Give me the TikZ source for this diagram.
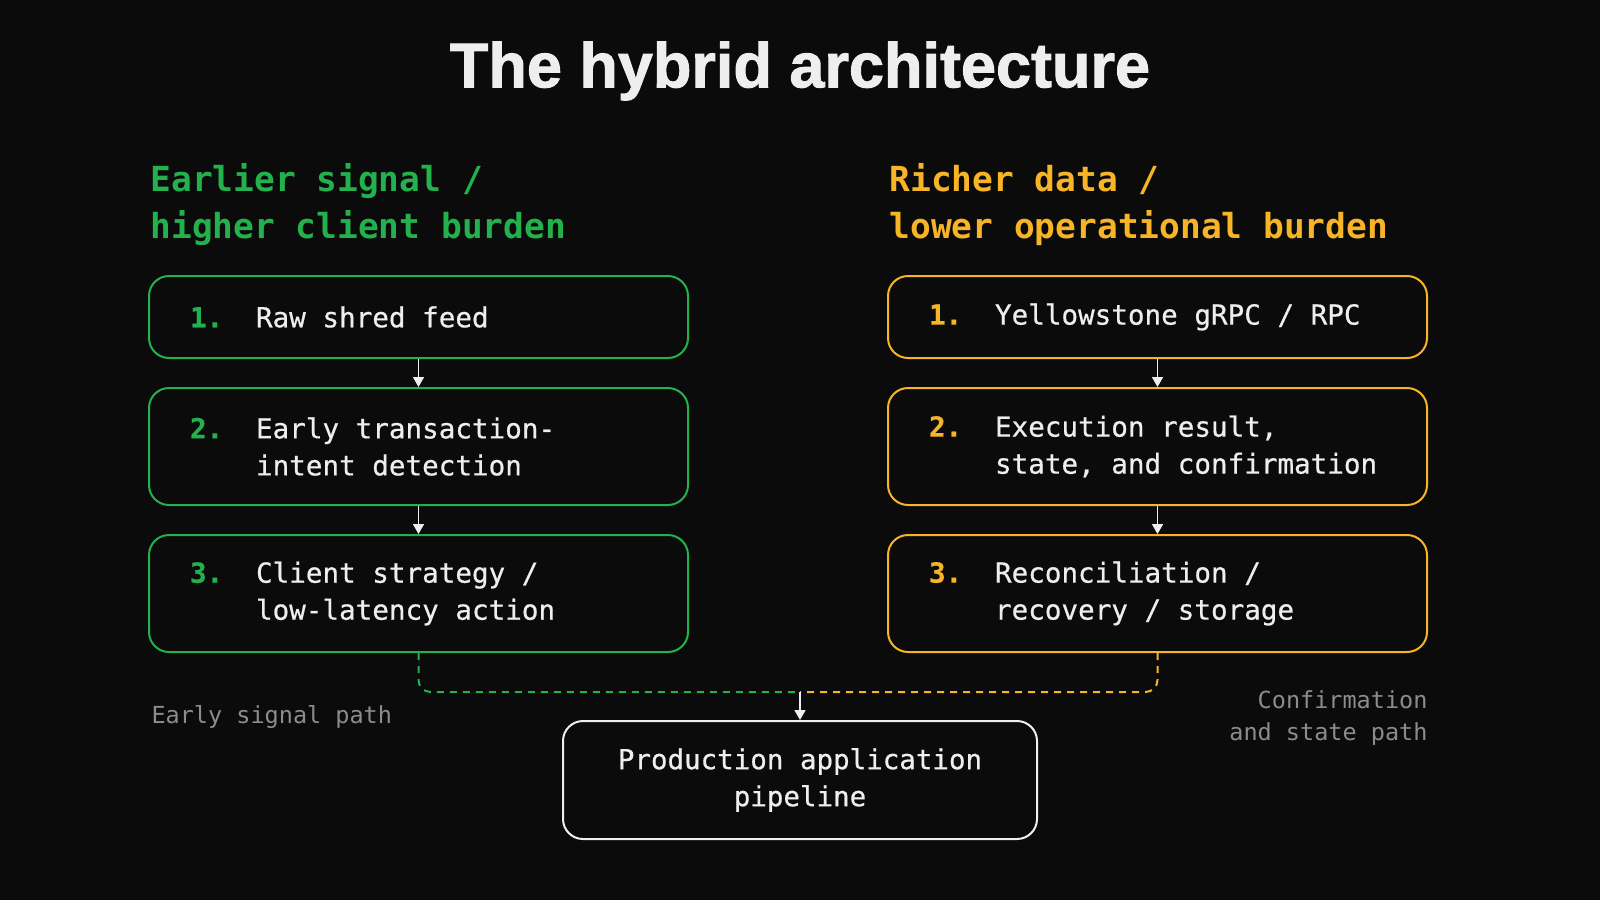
\documentclass[tikz,border=0pt]{standalone}
\usepackage{fontspec}
\usepackage{xcolor}
\usepackage{tikz}
\setmainfont{DejaVu Sans Mono}
\newfontfamily\medmono[FakeBold=0.6]{DejaVu Sans Mono}
\newfontfamily\titlefont[FakeBold=1.6]{Liberation Sans}
\usetikzlibrary{positioning,calc,arrows.meta}

\definecolor{bgdark}{HTML}{0B0B0B}
\definecolor{sigGreen}{HTML}{22B14C}
\definecolor{dataAmber}{HTML}{F6B426}
\definecolor{txtWhite}{HTML}{EEEEEE}
\definecolor{pathGray}{HTML}{8C8C8C}

% step number, then indent for the next line
\newcommand{\stepnum}[2]{\makebox[66pt][l]{\bfseries\color{#1}#2}}
\newcommand{\stepindent}{\hspace*{66pt}}

\begin{document}
\begin{tikzpicture}[x=1pt, y=-1pt,
    stagebox/.style={draw=#1, line width=2pt, rounded corners=20pt, minimum width=539pt,
        inner xsep=41pt, inner ysep=0pt, text width=457pt, align=flush left, text=txtWhite,
        font=\medmono\fontsize{27.6}{37}\selectfont},
    heading/.style={anchor=west, align=left, font=\fontsize{34.5}{47}\selectfont\bfseries},
    note/.style={text=pathGray, font=\fontsize{23.5}{32}\selectfont},
    flow/.style={txtWhite, line width=1.6pt, -{Triangle[width=11pt,length=10pt]}},
    pathline/.style={line width=2pt, dash pattern=on 7pt off 6pt, rounded corners=12pt}]

    % Background
    \fill[bgdark] (0,0) rectangle (1600,900);
    \useasboundingbox (0,0) rectangle (1600,900);

    % Title
    \node[text=txtWhite, font=\titlefont\fontsize{63}{70}\selectfont\bfseries] (title) at (800,71) {The hybrid architecture};

    % Column headings
    \node[heading, text=sigGreen] (headL) at (147,205) {Earlier signal /\\higher client burden};
    \node[heading, text=dataAmber] (headR) at (886,205) {Richer data /\\lower operational burden};

    % Left column
    \node[stagebox=sigGreen, minimum height=82pt] (g1) at (418.5,317) {\stepnum{sigGreen}{1.}Raw shred feed};
    \node[stagebox=sigGreen, minimum height=117pt] (g2) at (418.5,446.5) {\stepnum{sigGreen}{2.}Early transaction-\\\stepindent intent detection};
    \node[stagebox=sigGreen, minimum height=117pt] (g3) at (418.5,593.5) {\stepnum{sigGreen}{3.}Client strategy /\\\stepindent low-latency action};

    % Right column
    \node[stagebox=dataAmber, minimum height=82pt] (a1) at (1157.5,317) {\stepnum{dataAmber}{1.}Yellowstone gRPC / RPC};
    \node[stagebox=dataAmber, minimum height=117pt] (a2) at (1157.5,446.5) {\stepnum{dataAmber}{2.}Execution result,\\\stepindent state, and confirmation};
    \node[stagebox=dataAmber, minimum height=117pt] (a3) at (1157.5,593.5) {\stepnum{dataAmber}{3.}Reconciliation /\\\stepindent recovery / storage};

    % Arrows inside columns
    \draw[flow] (g1.south) -- (g2.north);
    \draw[flow] (g2.south) -- (g3.north);
    \draw[flow] (a1.south) -- (a2.north);
    \draw[flow] (a2.south) -- (a3.north);

    % Production box
    \node[draw=txtWhite, line width=2pt, rounded corners=20pt, minimum width=474pt, minimum height=118pt,
        align=center, text=txtWhite, font=\medmono\fontsize{27.5}{37}\selectfont] (prod) at (800,780)
        {Production application\\pipeline};

    % Merging paths
    \coordinate (join) at (800,692);
    \draw[pathline, sigGreen] (g3.south) -- (g3.south |- join) -- (join);
    \draw[pathline, dataAmber] (a3.south) -- (a3.south |- join) -- (join);
    \draw[flow] (join) -- (prod.north);

    % Path labels
    \node[note, anchor=west] (noteL) at (148,717) {Early signal path};
    \node[note, anchor=east, align=right] (noteR) at (1431,718) {Confirmation\\and state path};
\end{tikzpicture}
\end{document}
